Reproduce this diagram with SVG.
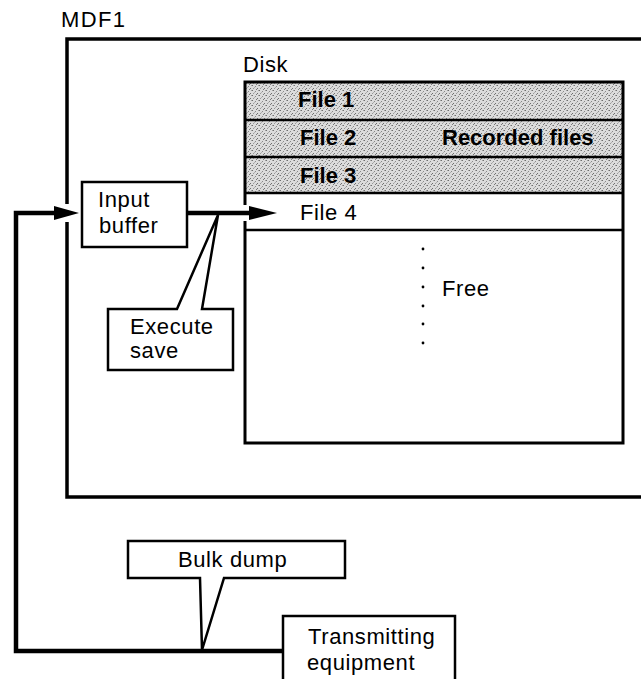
<svg xmlns="http://www.w3.org/2000/svg" width="641" height="679" viewBox="0 0 641 679">
  <defs>
    <!-- grainy halftone used for the recorded-file rows -->
    <pattern id="stipple" width="7" height="5" patternUnits="userSpaceOnUse">
      <rect width="7" height="5" fill="#dcdcdc"/>
      <rect x="0" y="0" width="1" height="1" fill="#6e6e6e"/>
      <rect x="3" y="1" width="1" height="1" fill="#8a8a8a"/>
      <rect x="5" y="3" width="1" height="1" fill="#6e6e6e"/>
      <rect x="1" y="3" width="1" height="1" fill="#9a9a9a"/>
      <rect x="4" y="4" width="1" height="1" fill="#7a7a7a"/>
      <rect x="6" y="0" width="1" height="1" fill="#a0a0a0"/>
      <rect x="2" y="2" width="1" height="1" fill="#b0b0b0"/>
    </pattern>
    <style>
      text { font-family: "Liberation Sans", Arial, Helvetica, sans-serif; font-size: 22px; fill: #000; letter-spacing: 0.6px; }
      .bold { font-weight: bold; letter-spacing: 0; }
      .frame { fill: none; stroke: #000; stroke-width: 3.5; stroke-linejoin: miter; }
      .disk { fill: none; stroke: #000; stroke-width: 3; }
      .sep { stroke: #000; stroke-width: 2.5; }
      .box { fill: #fff; stroke: #000; stroke-width: 2.5; stroke-linejoin: miter; }
      .flow { fill: none; stroke: #000; stroke-width: 4.5; stroke-linejoin: miter; }
      .head { fill: #000; stroke: none; }
      .dot { fill: #000; }
    </style>
  </defs>

  <rect width="641" height="679" fill="#fff"/>

  <!-- MDF1 enclosure (open on the right, broken where the input arrow enters) -->
  <g id="mdf1">
    <text x="61" y="27" style="letter-spacing:1.4px">MDF1</text>
    <path class="frame" d="M645 39 H67 V204 M67 222 V497 H645"/>
  </g>

  <!-- Disk with its file slots -->
  <g id="disk">
    <text x="243" y="72">Disk</text>
    <rect x="245" y="82" width="378" height="111" fill="url(#stipple)"/>
    <path class="disk" d="M245 205 V82 H623 V443 H245 V221"/>
    <line class="sep" x1="245" y1="120" x2="623" y2="120"/>
    <line class="sep" x1="245" y1="157" x2="623" y2="157"/>
    <line class="sep" x1="245" y1="193" x2="623" y2="193"/>
    <line class="sep" x1="245" y1="230" x2="623" y2="230"/>
    <text class="bold" x="298" y="107">File 1</text>
    <text class="bold" x="300" y="145">File 2</text>
    <text class="bold" x="442" y="145">Recorded files</text>
    <text class="bold" x="300" y="183">File 3</text>
    <text x="300" y="220">File 4</text>
    <g id="free-marks">
      <circle class="dot" cx="423" cy="249" r="1.4"/>
      <circle class="dot" cx="423" cy="268" r="1.4"/>
      <circle class="dot" cx="423" cy="287" r="1.4"/>
      <circle class="dot" cx="423" cy="306" r="1.4"/>
      <circle class="dot" cx="423" cy="324" r="1.4"/>
      <circle class="dot" cx="423" cy="343" r="1.4"/>
    </g>
    <text x="442" y="296">Free</text>
  </g>

  <!-- Input buffer -->
  <g id="input-buffer">
    <rect class="box" x="82" y="182" width="105" height="65"/>
    <text x="98" y="207">Input</text>
    <text x="99" y="233">buffer</text>
  </g>

  <!-- Transmitting equipment (runs off the lower edge) -->
  <g id="transmitter">
    <rect class="box" x="283" y="616" width="172" height="75"/>
    <text x="308" y="644">Transmitting</text>
    <text x="307" y="670">equipment</text>
  </g>

  <!-- Connectors -->
  <g id="connectors">
    <!-- transmitter back to input buffer -->
    <path class="flow" d="M283 651 H16 V213 H58"/>
    <polygon class="head" points="54,206 79,213 54,220"/>
    <!-- input buffer into the next free file slot -->
    <path class="flow" d="M187 213 H254"/>
    <polygon class="head" points="249,206 277,213 249,220"/>
  </g>

  <!-- Callout: Execute save -->
  <g id="execute-save">
    <path class="box" d="M177 309 L218 215 L202 309 H233 V370 H108 V309 Z"/>
    <text x="130" y="334">Execute</text>
    <text x="130" y="358">save</text>
  </g>

  <!-- Callout: Bulk dump -->
  <g id="bulk-dump">
    <path class="box" d="M200 578 L202 650 L224 578 H345 V541 H128 V578 Z"/>
    <text x="178" y="567">Bulk dump</text>
  </g>
</svg>
